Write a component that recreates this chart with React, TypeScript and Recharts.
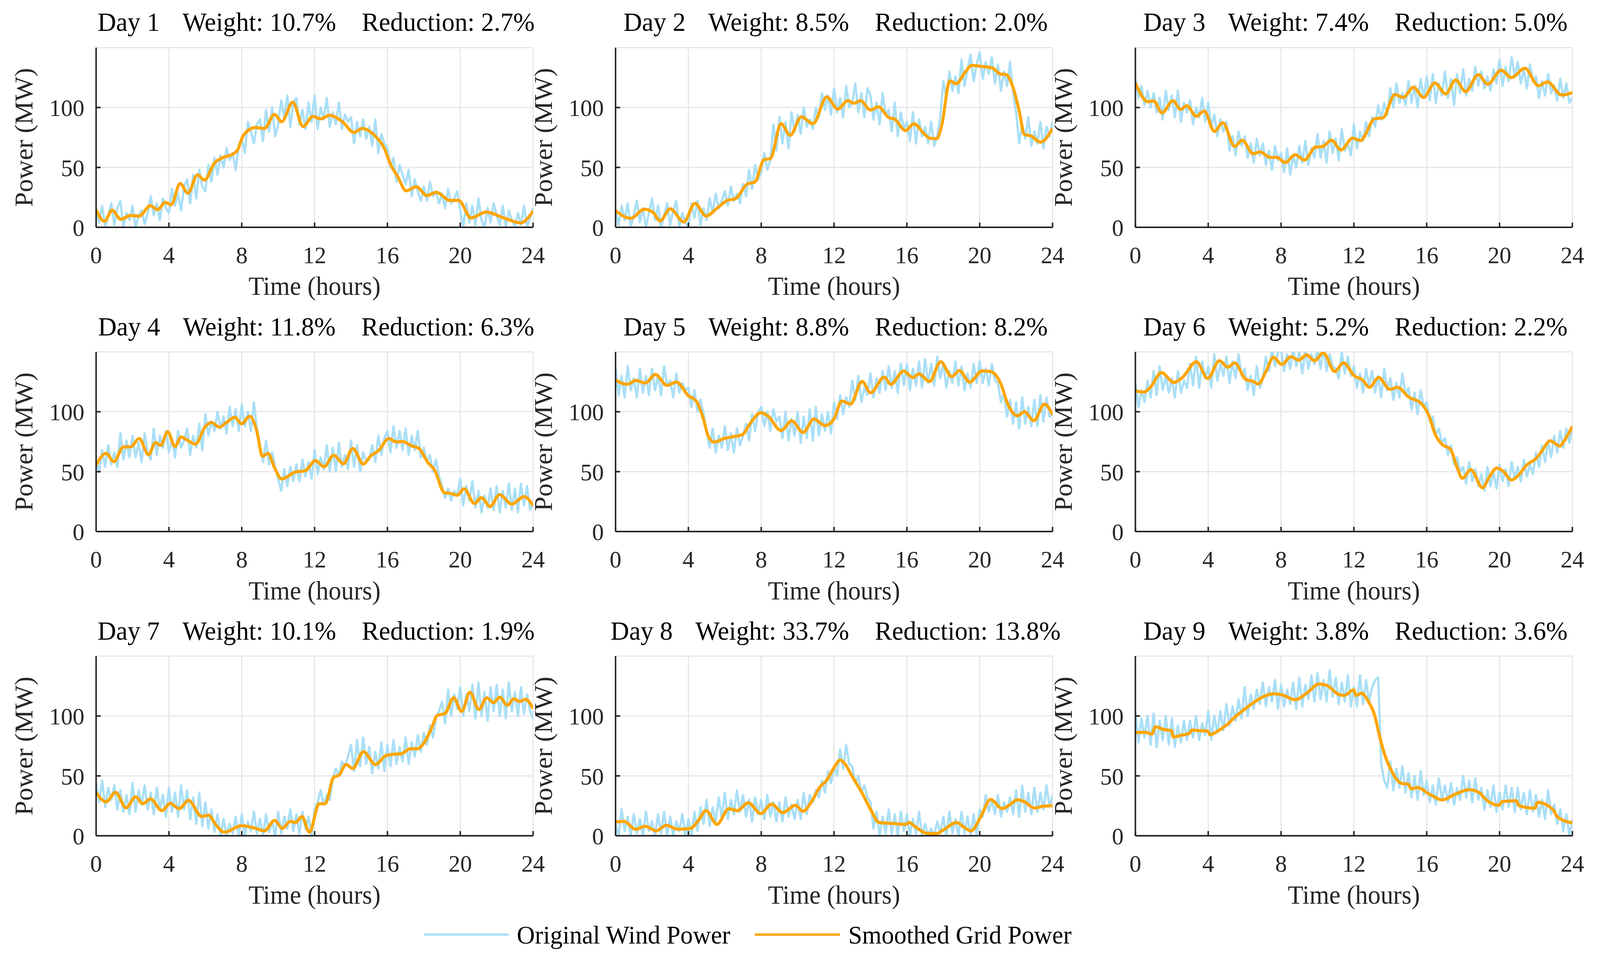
import React from 'react';
import { LineChart, Line, XAxis, YAxis, CartesianGrid } from 'recharts';

const xTicks = [0, 4, 8, 12, 16, 20, 24];
const yTicks = [0, 50, 100];
const dayNames = ['Day 1', 'Day 2', 'Day 3', 'Day 4', 'Day 5', 'Day 6', 'Day 7', 'Day 8', 'Day 9'];
const dayWeights = ['10.7%', '8.5%', '7.4%', '11.8%', '8.8%', '5.2%', '10.1%', '33.7%', '3.8%'];
const dayReductions = ['2.7%', '2.0%', '5.0%', '6.3%', '8.2%', '2.2%', '1.9%', '13.8%', '3.6%'];
const seriesNames = ['Original Wind Power', 'Smoothed Grid Power'];
const xLabel = 'Time (hours)';
const yLabel = 'Power (MW)';

// Original wind power, 10-minute samples (145 per day), one row per hour
const orig1 = [
  14, 4, 18, 0, 10, 20,
  2, 16, 22, 0, 12, 6,
  18, 0, 9, 14, 3, 12,
  26, 10, 20, 6, 24, 16,
  12, 32, 18, 28, 14, 34,
  40, 20, 44, 24, 48, 34,
  30, 52, 38, 58, 44, 60,
  50, 66, 56, 62, 48, 68,
  74, 62, 88, 80, 70, 86,
  90, 72, 98, 80, 100, 76,
  86, 106, 92, 110, 84, 104,
  108, 86, 98, 82, 104, 88,
  110, 82, 100, 90, 108, 84,
  96, 86, 104, 82, 94, 88,
  92, 70, 88, 76, 90, 74,
  84, 68, 90, 62, 78, 70,
  66, 50, 58, 38, 52, 44,
  36, 48, 26, 40, 30, 22,
  34, 22, 38, 26, 30, 20,
  28, 16, 32, 20, 24, 30,
  14, 0, 20, 4, 18, 2,
  24, 6, 0, 16, 4, 20,
  10, 2, 18, 0, 14, 6,
  0, 12, 2, 18, 0, 8,
  16,
];
const orig2 = [
  14, 2, 18, 6, 20, 0,
  10, 22, 4, 16, 0, 12,
  24, 6, 18, 0, 10, 20,
  2, 14, 22, 0, 12, 4,
  0, 20, 8, 22, 2, 16,
  6, 24, 12, 28, 16, 22,
  30, 18, 34, 22, 28, 20,
  36, 26, 48, 32, 52, 40,
  46, 62, 48, 56, 86, 64,
  92, 70, 88, 66, 96, 80,
  94, 78, 100, 84, 90, 82,
  100, 92, 112, 98, 110, 94,
  116, 96, 108, 92, 118, 100,
  104, 120, 96, 112, 92, 116,
  110, 90, 104, 86, 112, 94,
  98, 80, 104, 76, 96, 82,
  88, 72, 96, 70, 90, 76,
  84, 70, 88, 68, 76, 92,
  122, 108, 130, 114, 126, 112,
  140, 118, 132, 144, 122, 136,
  146, 124, 138, 128, 142, 120,
  136, 114, 130, 118, 138, 112,
  96, 70, 86, 74, 92, 68,
  80, 70, 88, 66, 84, 76,
  88,
];
const orig3 = [
  124, 108, 118, 102, 114, 100,
  112, 96, 108, 90, 114, 98,
  110, 92, 114, 88, 104, 96,
  106, 86, 100, 92, 108, 88,
  104, 84, 94, 76, 90, 80,
  88, 64, 76, 60, 80, 68,
  76, 58, 70, 54, 74, 60,
  70, 52, 64, 48, 68, 56,
  62, 46, 66, 44, 60, 50,
  68, 54, 72, 52, 66, 58,
  78, 58, 72, 54, 80, 62,
  74, 56, 82, 64, 70, 60,
  86, 66, 80, 72, 88, 76,
  92, 84, 102, 90, 104, 94,
  116, 100, 120, 104, 112, 102,
  122, 104, 118, 100, 124, 108,
  126, 106, 128, 104, 120, 110,
  130, 108, 124, 102, 128, 112,
  132, 110, 124, 114, 134, 118,
  130, 116, 126, 114, 132, 120,
  140, 118, 134, 122, 142, 126,
  138, 120, 132, 116, 136, 122,
  126, 108, 122, 110, 128, 112,
  118, 106, 124, 108, 120, 104,
  108,
];
const orig4 = [
  58, 50, 68, 54, 72, 56,
  66, 54, 82, 60, 76, 62,
  80, 62, 74, 58, 82, 66,
  60, 86, 64, 80, 70, 84,
  66, 78, 62, 84, 70, 76,
  86, 64, 80, 70, 90, 68,
  98, 80, 92, 84, 100, 86,
  96, 82, 104, 88, 102, 84,
  106, 88, 100, 84, 108, 86,
  72, 58, 76, 56, 66, 54,
  44, 34, 52, 38, 54, 42,
  56, 42, 60, 46, 58, 44,
  68, 48, 62, 52, 72, 50,
  70, 50, 74, 54, 64, 52,
  76, 54, 72, 50, 66, 58,
  60, 72, 58, 80, 64, 78,
  84, 66, 88, 70, 84, 68,
  86, 64, 80, 68, 84, 62,
  70, 58, 64, 50, 60, 46,
  38, 28, 36, 26, 34, 30,
  44, 22, 38, 26, 42, 20,
  34, 16, 30, 20, 36, 18,
  38, 16, 34, 20, 40, 18,
  36, 16, 40, 22, 38, 18,
  24,
];
const orig5 = [
  136, 114, 130, 112, 138, 118,
  128, 112, 136, 116, 130, 114,
  136, 118, 130, 114, 138, 122,
  126, 112, 132, 116, 124, 118,
  120, 104, 118, 100, 110, 98,
  84, 70, 86, 66, 80, 70,
  88, 68, 82, 66, 86, 72,
  80, 90, 76, 98, 84, 100,
  104, 88, 100, 84, 102, 92,
  96, 78, 100, 76, 94, 80,
  100, 74, 96, 78, 102, 76,
  104, 80, 98, 84, 100, 82,
  108, 94, 114, 98, 112, 104,
  126, 110, 130, 108, 120, 114,
  132, 112, 128, 116, 134, 118,
  138, 120, 134, 116, 140, 122,
  140, 118, 136, 122, 142, 120,
  144, 124, 140, 122, 146, 128,
  140, 120, 134, 124, 142, 122,
  138, 118, 132, 120, 140, 124,
  142, 124, 136, 122, 140, 126,
  124, 108, 116, 96, 110, 90,
  108, 86, 112, 90, 104, 88,
  110, 88, 114, 92, 112, 96,
  98,
];
const orig6 = [
  124, 104, 118, 108, 126, 112,
  134, 114, 138, 118, 130, 116,
  128, 112, 134, 116, 126, 120,
  140, 122, 146, 120, 142, 128,
  138, 120, 148, 126, 140, 130,
  146, 124, 142, 128, 148, 130,
  136, 118, 130, 114, 138, 120,
  128, 146, 134, 152, 138, 150,
  152, 134, 148, 136, 152, 138,
  150, 132, 152, 136, 148, 140,
  152, 136, 154, 134, 148, 138,
  136, 128, 150, 132, 146, 130,
  138, 120, 132, 116, 136, 122,
  134, 116, 130, 112, 136, 118,
  128, 110, 124, 112, 132, 114,
  120, 102, 116, 98, 118, 104,
  108, 92, 96, 80, 86, 74,
  78, 64, 72, 56, 62, 50,
  54, 40, 58, 42, 52, 38,
  48, 34, 54, 38, 50, 36,
  56, 42, 52, 38, 58, 44,
  54, 42, 60, 46, 56, 48,
  66, 54, 72, 58, 76, 62,
  80, 66, 84, 70, 86, 74,
  88,
];
const orig7 = [
  44, 28, 46, 24, 40, 30,
  42, 22, 38, 20, 34, 18,
  44, 20, 38, 26, 42, 22,
  36, 18, 40, 22, 34, 16,
  40, 20, 36, 16, 42, 22,
  38, 14, 32, 10, 36, 8,
  28, 6, 22, 3, 18, 0,
  14, 0, 10, 2, 16, 0,
  18, 0, 12, 4, 20, 2,
  14, 0, 18, 3, 12, 0,
  20, 2, 16, 6, 22, 4,
  18, 2, 20, 6, 16, 0,
  22, 28, 38, 26, 34, 30,
  48, 56, 50, 62, 58, 66,
  76, 54, 80, 58, 82, 60,
  74, 52, 70, 56, 78, 54,
  76, 58, 80, 60, 74, 62,
  82, 60, 78, 66, 84, 70,
  86, 76, 92, 82, 98, 104,
  112, 94, 122, 100, 118, 106,
  124, 100, 118, 104, 126, 98,
  128, 100, 120, 96, 124, 104,
  126, 100, 122, 98, 128, 104,
  120, 100, 124, 102, 118, 104,
  98,
];
const orig8 = [
  10, 0, 22, 4, 16, 0,
  18, 2, 14, 0, 20, 4,
  12, 0, 18, 2, 20, 0,
  16, 0, 12, 4, 18, 0,
  14, 0, 20, 4, 24, 10,
  30, 8, 24, 12, 32, 14,
  36, 14, 30, 18, 38, 20,
  34, 16, 30, 12, 32, 18,
  30, 14, 34, 16, 28, 12,
  28, 12, 32, 16, 26, 14,
  30, 14, 36, 18, 34, 28,
  38, 32, 46, 36, 54, 44,
  58, 50, 72, 56, 76, 60,
  58, 44, 50, 36, 42, 32,
  28, 6, 20, 0, 16, 2,
  22, 2, 18, 0, 20, 4,
  18, 0, 14, 2, 20, 0,
  10, 0, 6, 0, 12, 2,
  16, 0, 20, 2, 14, 0,
  20, 2, 16, 0, 18, 0,
  22, 16, 34, 20, 30, 18,
  34, 16, 28, 20, 32, 18,
  38, 16, 42, 20, 36, 18,
  40, 20, 36, 22, 42, 24,
  34,
];
const orig9 = [
  104, 78, 98, 82, 100, 76,
  102, 74, 96, 80, 100, 76,
  98, 74, 92, 78, 96, 80,
  96, 82, 100, 80, 94, 84,
  104, 80, 100, 86, 104, 88,
  110, 92, 108, 96, 114, 98,
  124, 100, 118, 106, 122, 110,
  128, 108, 124, 112, 130, 106,
  126, 108, 122, 110, 128, 106,
  132, 108, 126, 114, 134, 112,
  136, 114, 130, 112, 138, 116,
  132, 110, 128, 112, 134, 108,
  124, 108, 134, 110, 130, 112,
  124, 130, 132, 60, 46, 40,
  62, 38, 56, 40, 58, 36,
  52, 32, 50, 30, 54, 34,
  46, 28, 42, 26, 48, 30,
  42, 28, 44, 26, 40, 30,
  50, 32, 46, 28, 48, 30,
  40, 22, 38, 24, 42, 20,
  36, 22, 42, 24, 40, 20,
  40, 22, 36, 18, 38, 20,
  34, 16, 30, 14, 38, 18,
  26, 10, 22, 4, 18, 0,
  14,
];

// Smoothed grid power, [hour, MW] read at turning points
const smooth1 = [
  [0, 14.6], [0.46, 5], [0.88, 14.3], [1.35, 6.7], [1.89, 9.9], [2.37, 9.4], [2.98, 18], [3.38, 14.8],
  [3.8, 20.8], [4.12, 18.8], [4.62, 36.5], [5.04, 28.4], [5.57, 43.8], [5.95, 39.4], [6.5, 53.6], [7.0, 58.4],
  [7.48, 60.9], [7.77, 64.6], [8.09, 76.8], [8.76, 83.3], [9.24, 82.5], [9.8, 94.2], [10.19, 88.1], [10.8, 104.4],
  [11.37, 84.1], [11.9, 92.5], [12.33, 90.6], [12.82, 93.5], [13.53, 88.1], [14.16, 79.2], [14.62, 82.5], [15.34, 76],
  [15.82, 66.2], [16.2, 51.6], [16.58, 41.9], [17.02, 30.5], [17.58, 33.8], [18.17, 26.5], [18.68, 29.2], [19.45, 22.4],
  [19.92, 22.4], [20.59, 7.8], [21.41, 12.7], [22.4, 7.8], [23.32, 3.7], [24, 13.5],
];
const smooth2 = [
  [0, 13.8], [0.83, 7.5], [1.58, 15.1], [2.04, 12.7], [2.45, 5.4], [3.0, 15.4], [3.75, 4.5], [4.36, 20],
  [4.97, 9.4], [5.57, 15.9], [6.13, 22.4], [6.59, 24], [7.24, 36.2], [7.65, 37.8], [8.16, 56.5], [8.5, 57.3],
  [9.09, 86.5], [9.59, 76.8], [10.2, 92.2], [10.85, 86.5], [11.6, 108.8], [12.2, 98.7], [12.76, 105.7], [13.08, 103.6],
  [13.45, 105.7], [14.0, 97.9], [14.43, 100.6], [15.03, 91.4], [15.3, 90.6], [15.92, 80.8], [16.38, 86.4], [16.98, 77.6],
  [17.25, 74.4], [17.63, 74], [17.9, 84.1], [18.36, 122.2], [18.7, 119.8], [19.2, 129.5], [19.57, 135.2], [20.04, 134.4],
  [20.69, 133.1], [21.15, 127.9], [21.43, 127.6], [21.8, 118.2], [22.17, 97.1], [22.45, 77.6], [22.82, 76.3], [23.34, 71.1],
  [24, 82.5],
];
const smooth3 = [
  [0, 120.6], [0.69, 104.9], [1.0, 105.5], [1.46, 95.5], [2.06, 105.7], [2.48, 98.4], [2.82, 101.5], [3.35, 92.7],
  [3.78, 97.1], [4.34, 80], [4.8, 87.3], [5.45, 67.5], [5.87, 72.7], [6.47, 61.4], [6.84, 63], [7.39, 58.4],
  [7.76, 58.4], [8.23, 54.1], [8.78, 60.6], [9.28, 56.2], [9.9, 67], [10.27, 67.4], [10.77, 72.7], [11.29, 64.6],
  [11.93, 74.4], [12.36, 72.4], [13.14, 90.6], [13.6, 91.4], [14.25, 110.9], [14.71, 108.4], [15.27, 116.9], [15.83, 108.4],
  [16.44, 120.6], [17.04, 111.4], [17.59, 123], [18.14, 113.3], [18.83, 127.4], [19.35, 119.5], [20.09, 131.2], [20.65, 125],
  [21.39, 132.8], [22.13, 118.2], [22.63, 121.4], [23.42, 110.4], [24, 112.5],
];
const smooth4 = [
  [0, 55.4], [0.55, 65.3], [0.97, 58.4], [1.51, 70.7], [1.89, 70.7], [2.37, 77.6], [2.88, 64.1], [3.26, 74.3],
  [3.55, 71.9], [3.93, 83.4], [4.33, 71], [4.66, 78.9], [5.04, 76], [5.46, 73], [5.99, 87.5], [6.34, 91.1],
  [6.76, 87.2], [7.14, 90.8], [7.61, 95.4], [7.99, 90], [8.44, 96.2], [8.82, 84.2], [9.14, 62.8], [9.43, 65.3],
  [9.81, 53], [10.19, 43.9], [10.95, 49.7], [11.49, 50.8], [12.04, 59.2], [12.52, 54.1], [13.05, 63.7], [13.59, 56.6],
  [14.1, 69.4], [14.68, 56.3], [15.06, 62.8], [15.53, 67.8], [16.07, 77.6], [16.49, 74.8], [16.83, 75.2], [17.35, 71.4],
  [17.73, 69.4], [18.21, 57.9], [18.59, 51.3], [19.13, 32.4], [19.45, 31.9], [19.83, 30.3], [20.21, 35.7], [20.78, 23.4],
  [21.16, 28.3], [21.64, 20.9], [22.16, 30.8], [22.82, 22.9], [23.51, 29.1], [24, 21.7],
];
const smooth5 = [
  [0, 126.5], [0.65, 122.9], [1.11, 126.2], [1.63, 124], [2.19, 131.1], [2.82, 122], [3.34, 124.8], [3.99, 113.5],
  [4.45, 108.6], [4.82, 94.2], [5.1, 79.3], [5.42, 74.7], [5.94, 77.6], [6.49, 79.3], [6.96, 80.9], [7.42, 90.8],
  [7.98, 99.2], [8.35, 96.7], [9.09, 84.4], [9.68, 92.4], [10.3, 82.7], [10.89, 93.9], [11.5, 88.5], [11.97, 93.4],
  [12.43, 108.9], [12.9, 106.4], [13.54, 125.3], [14.01, 115.8], [14.75, 128.9], [15.12, 122.9], [15.81, 133.9], [16.33, 128.6],
  [16.66, 131.6], [17.25, 125.3], [17.85, 141.8], [18.46, 129.4], [18.89, 134.4], [19.44, 124.8], [20.13, 134], [20.59, 133.6],
  [21.15, 123.7], [21.56, 105.8], [22.08, 96.7], [22.45, 100], [22.97, 92.6], [23.56, 106.4], [24, 97.5],
];
const smooth6 = [
  [0, 117.6], [0.44, 116.3], [0.82, 120.4], [1.43, 132.7], [2.11, 124.5], [2.58, 128.6], [3.35, 141.8], [3.97, 127.8],
  [4.61, 142.6], [5.08, 137.2], [5.45, 140.9], [6.06, 127], [6.47, 125.3], [6.75, 123.2], [7.17, 133.6], [7.58, 145.4],
  [8.04, 139.6], [8.54, 145.9], [8.97, 143.1], [9.4, 147.5], [9.84, 142.6], [10.32, 149.2], [10.95, 133.6], [11.43, 140.9],
  [12.03, 129.9], [12.44, 127], [12.86, 120.4], [13.36, 128.6], [13.97, 118.8], [14.4, 120.4], [14.99, 112.5], [15.73, 106.4],
  [16.1, 97.5], [16.47, 81], [16.85, 72.7], [17.31, 68.6], [17.68, 53], [17.96, 44.4], [18.42, 51.6], [19.07, 36.5],
  [19.44, 45.6], [19.85, 53], [20.19, 50.5], [20.65, 43.1], [21.02, 46.7], [21.48, 55.4], [22.04, 61.5], [22.35, 67.8],
  [22.78, 75.7], [23.3, 71.4], [23.56, 76], [24, 87.8],
];
const smooth7 = [
  [0, 36.2], [0.55, 28.4], [1.07, 36.2], [1.64, 23.4], [2.18, 32.5], [2.56, 26.7], [2.98, 30.8], [3.61, 21],
  [4.08, 27], [4.56, 22.6], [5.08, 29.5], [5.8, 16.1], [6.18, 17.2], [6.56, 9.5], [7.04, 3], [8.0, 8.4],
  [8.76, 6.2], [9.24, 4.1], [9.81, 12.8], [10.23, 6.2], [10.67, 12], [10.95, 11.1], [11.3, 16.1], [11.72, 3],
  [12.25, 26.7], [12.58, 26.7], [13.05, 48.9], [13.34, 50.5], [13.72, 59.5], [14.1, 56.2], [14.68, 70.2], [15.34, 59.5],
  [15.92, 66.9], [16.3, 68], [16.77, 68.5], [17.25, 72.6], [17.63, 72.6], [18.05, 78.4], [18.4, 89], [18.74, 100.5],
  [19.16, 102.1], [19.64, 115.2], [20.08, 103.8], [20.53, 119.8], [21.03, 105.4], [21.45, 115.2], [21.83, 111.1], [22.16, 115.6],
  [22.6, 109], [22.94, 114.4], [23.26, 112], [23.59, 113.9], [24, 106.2],
];
const smooth8 = [
  [0, 11.6], [0.46, 12], [1.11, 5.4], [1.63, 7.9], [2.23, 4.1], [2.78, 8.7], [3.43, 5.4], [4.12, 6.2],
  [4.55, 12.8], [4.97, 21], [5.57, 9.5], [6.22, 22.6], [6.68, 21], [7.29, 27.5], [7.98, 18.5], [8.57, 26.4],
  [9.18, 19.3], [9.87, 25.4], [10.3, 20.5], [10.76, 28.4], [11.22, 40.7], [11.6, 46.4], [11.97, 56.2], [12.34, 63.1],
  [12.62, 59.5], [12.99, 49.7], [13.54, 35.7], [14.01, 21.8], [14.47, 11.1], [15.21, 10.3], [15.96, 9.5], [16.1, 11.1],
  [16.51, 7], [17.07, 2.1], [17.63, 1.8], [18.03, 5.1], [18.74, 11.1], [19.11, 7.4], [19.52, 4.1], [20.04, 15.2],
  [20.59, 30.3], [21.24, 22.6], [21.61, 25.4], [22.08, 30], [22.45, 28.4], [23.01, 23.1], [23.47, 24.6], [24, 25.1],
];
const smooth9 = [
  [0, 86.1], [0.54, 86.4], [0.91, 84.9], [1.09, 91], [1.56, 88.7], [1.98, 87.7], [2.08, 82.5], [2.48, 83.8],
  [2.98, 85.7], [3.09, 88.2], [3.6, 87.7], [3.97, 87.4], [4.1, 84.4], [4.52, 87.4], [4.99, 92.3], [5.45, 98.9],
  [5.95, 105.1], [6.38, 110], [7.02, 116.1], [7.58, 118.5], [8.04, 117.7], [8.78, 113.6], [9.43, 119.3], [10.08, 126.7],
  [10.54, 125.4], [11.1, 118.5], [11.47, 117.2], [11.99, 121.8], [12.12, 117.2], [12.43, 118.9], [12.77, 112.8], [13.14, 100.5],
  [13.42, 82.5], [13.73, 66.1], [14.03, 55.4], [14.34, 47.2], [14.71, 43.4], [14.99, 43.1], [15.14, 39.3], [15.51, 40.2],
  [16.1, 35.2], [16.85, 30], [17.59, 34.9], [18.33, 38.5], [18.92, 35.7], [19.16, 31.6], [19.96, 25.4], [20.14, 28.4],
  [20.92, 29.2], [21.07, 25.1], [21.94, 23], [22.09, 27.9], [22.96, 21.5], [23.15, 16.1], [24, 10.7],
];

const origAll = [orig1, orig2, orig3, orig4, orig5, orig6, orig7, orig8, orig9];
const smoothAll = [smooth1, smooth2, smooth3, smooth4, smooth5, smooth6, smooth7, smooth8, smooth9];

const origData = origAll.map((arr) => arr.map((v, i) => ({ t: i / 6, v })));
const smoothData = smoothAll.map((arr) => arr.map(([t, v]) => ({ t, v })));

// Layout
const PAGE_W = 4229;
const PAGE_H = 2453;
const PLOT_LEFTS = [254, 1627, 3001];
const PLOT_TOPS = [121.5, 901, 1680];
const PW = 1155;
const PH = 460;
const AXW = 200;
const AXH = 200;
const PAD_T = 12;
const PAD_R = 70;
const FONT = '"Liberation Serif", "Times New Roman", Times, serif';
const AX_COLOR = '#262626';
const BLUE = '#AADFF6';
const ORANGE = '#FFA500';

const axisStroke = { stroke: AX_COLOR, strokeWidth: 4 };

function Panel({ idx }: { idx: number }) {
  const col = idx % 3;
  const row = Math.floor(idx / 3);
  const left = PLOT_LEFTS[col];
  const top = PLOT_TOPS[row];
  return (
    <div style={{ position: 'absolute', left: left - AXW, top: top - PAD_T }}>
      <LineChart
        width={AXW + PW + PAD_R}
        height={PAD_T + PH + AXH}
        margin={{ top: PAD_T, right: PAD_R, bottom: 0, left: 0 }}
        style={{ overflow: 'visible' }}
      >
        <CartesianGrid xAxisId="b" yAxisId="l" stroke="#E6E6E6" strokeWidth={3} />
        <XAxis
          xAxisId="b"
          dataKey="t"
          type="number"
          domain={[0, 24]}
          ticks={xTicks}
          interval={0}
          allowDataOverflow
          orientation="bottom"
          height={AXH}
          tickSize={-12}
          tickMargin={60}
          axisLine={axisStroke}
          tickLine={axisStroke}
          tick={{ fill: AX_COLOR, fontSize: 62, fontFamily: FONT }}
        />
        <XAxis
          xAxisId="t"
          type="number"
          domain={[0, 24]}
          ticks={xTicks}
          interval={0}
          allowDataOverflow
          orientation="top"
          height={0}
          tickSize={-12}
          axisLine={axisStroke}
          tickLine={axisStroke}
          tick={false}
        />
        <YAxis
          yAxisId="l"
          type="number"
          domain={[0, 150]}
          ticks={yTicks}
          interval={0}
          allowDataOverflow
          orientation="left"
          width={AXW}
          tickSize={-12}
          tickMargin={43}
          axisLine={axisStroke}
          tickLine={axisStroke}
          tick={{ fill: AX_COLOR, fontSize: 62, fontFamily: FONT }}
        />
        <YAxis
          yAxisId="r"
          type="number"
          domain={[0, 150]}
          ticks={yTicks}
          interval={0}
          allowDataOverflow
          orientation="right"
          width={0}
          tickSize={-12}
          axisLine={axisStroke}
          tickLine={axisStroke}
          tick={false}
        />
        <Line
          xAxisId="b"
          yAxisId="l"
          data={origData[idx]}
          dataKey="v"
          name={seriesNames[0]}
          type="linear"
          stroke={BLUE}
          strokeWidth={6}
          strokeLinejoin="round"
          dot={false}
          activeDot={false}
          isAnimationActive={false}
        />
        <Line
          xAxisId="b"
          yAxisId="l"
          data={smoothData[idx]}
          dataKey="v"
          name={seriesNames[1]}
          type="monotone"
          stroke={ORANGE}
          strokeWidth={8}
          strokeLinejoin="round"
          dot={false}
          activeDot={false}
          isAnimationActive={false}
        />
      </LineChart>
    </div>
  );
}

function Overlay() {
  const items = dayNames.map((name, idx) => {
    const col = idx % 3;
    const row = Math.floor(idx / 3);
    const left = PLOT_LEFTS[col];
    const top = PLOT_TOPS[row];
    const cx = left + PW / 2;
    const cy = top + PH / 2;
    return (
      <g key={idx}>
        <text x={cx + 4} y={top - 42} textAnchor="middle" fontSize={68} fill="#000">
          <tspan>{name}</tspan>
          <tspan dx={60}>{`Weight: ${dayWeights[idx]}`}</tspan>
          <tspan dx={68}>{`Reduction: ${dayReductions[idx]}`}</tspan>
        </text>
        <text x={cx} y={top + PH + 174} textAnchor="middle" fontSize={67} fill={AX_COLOR}>
          {xLabel}
        </text>
        <text
          transform={`translate(${left - 168},${cy}) rotate(-90)`}
          textAnchor="middle"
          fontSize={67}
          fill={AX_COLOR}
        >
          {yLabel}
        </text>
      </g>
    );
  });
  const legY = 2393;
  return (
    <svg
      width={PAGE_W}
      height={PAGE_H}
      style={{ position: 'absolute', left: 0, top: 0, pointerEvents: 'none', fontFamily: FONT }}
    >
      {items}
      <line x1={1121} x2={1345} y1={legY} y2={legY} stroke={BLUE} strokeWidth={6} />
      <text x={1366} y={legY + 23} fontSize={66} fill="#000">{seriesNames[0]}</text>
      <line x1={1995} x2={2220} y1={legY} y2={legY} stroke={ORANGE} strokeWidth={6} />
      <text x={2242} y={legY + 23} fontSize={66} fill="#000">{seriesNames[1]}</text>
    </svg>
  );
}

export default function App() {
  const vw = typeof window !== 'undefined' ? window.innerWidth : PAGE_W;
  const vh = typeof window !== 'undefined' ? window.innerHeight : PAGE_H;
  const sx = vw > 0 ? Math.min(1, vw / PAGE_W) : 1;
  const sy = vh > 0 ? Math.min(1, vh / PAGE_H) : 1;
  return (
    <div
      style={{
        position: 'absolute',
        left: 0,
        top: 0,
        width: PAGE_W,
        height: PAGE_H,
        background: '#fff',
        overflow: 'hidden',
        fontFamily: FONT,
        transform: `scale(${sx}, ${sy})`,
        transformOrigin: '0 0',
      }}
    >
      {dayNames.map((_, idx) => (
        <Panel key={idx} idx={idx} />
      ))}
      <Overlay />
    </div>
  );
}
